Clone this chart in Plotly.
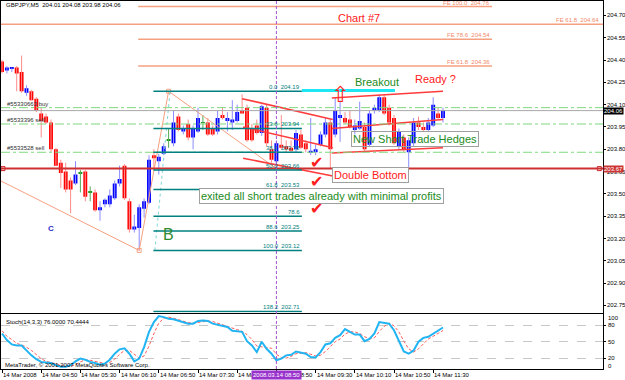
import plotly.graph_objects as go

W, H = 625, 380
FONT = "Liberation Sans, Arial, sans-serif"

# ---------------- data (GBPJPY M5, 14 Mar 2008) ----------------
bar_index = list(range(91))
open_ = [204.39, 204.33, 204.34, 204.35, 204.32, 204.18, 204.19, 204.14, 204.04, 204.02,
         203.98, 203.80, 203.71, 203.65, 203.59, 203.57, 203.64, 203.65, 203.51, 203.51,
         203.39, 203.43, 203.43, 203.47, 203.57, 203.69, 203.45, 203.26, 203.27, 203.40,
         203.44, 203.76, 203.72, 203.77, 203.86, 203.84, 204.02, 203.92, 203.97, 203.88,
         203.92, 203.98, 203.98, 203.94, 203.92, 204.03, 203.99, 203.98, 203.99, 204.06,
         204.08, 203.94, 203.96, 203.91, 204.08, 203.80, 203.72, 203.83, 203.82, 203.81,
         203.80, 203.90, 203.84, 203.78, 203.78, 203.83, 203.90, 203.98, 203.90, 204.01,
         204.01, 204.00, 203.93, 203.94, 203.95, 203.83, 204.06, 204.06, 204.15, 204.08,
         204.01, 203.82, 203.88, 203.78, 203.84, 203.98, 203.95, 203.93, 203.96, 204.04,
         204.01]
high = [204.40, 204.36, 204.35, 204.36, 204.43, 204.23, 204.20, 204.15, 204.08, 204.04,
        204.00, 203.81, 203.73, 203.71, 203.61, 203.72, 203.66, 203.66, 203.55, 203.53,
        203.45, 203.47, 203.53, 203.59, 203.69, 203.70, 203.47, 203.36, 203.43, 203.47,
        203.76, 203.80, 203.77, 203.84, 203.94, 204.06, 204.04, 203.96, 204.00, 203.96,
        204.08, 204.03, 204.01, 203.96, 204.06, 204.08, 204.05, 204.13, 204.10, 204.17,
        204.10, 203.97, 204.00, 204.10, 204.10, 203.86, 203.86, 204.03, 203.86, 203.86,
        203.93, 203.93, 203.86, 204.01, 203.83, 203.92, 204.01, 204.00, 204.15, 204.13,
        204.05, 204.06, 204.00, 204.12, 203.98, 204.06, 204.10, 204.17, 204.17, 204.10,
        204.03, 203.94, 203.90, 203.88, 204.01, 204.02, 203.98, 204.01, 204.15, 204.08,
        204.08]
low = [204.31, 204.31, 204.32, 204.19, 204.18, 204.16, 204.13, 204.05, 203.88, 203.97,
       203.78, 203.69, 203.54, 203.51, 203.37, 203.56, 203.51, 203.45, 203.45, 203.38,
       203.32, 203.41, 203.41, 203.46, 203.55, 203.46, 203.24, 203.24, 203.12, 203.34,
       203.43, 203.67, 203.63, 203.76, 203.81, 203.82, 203.92, 203.90, 203.86, 203.80,
       203.91, 203.93, 203.89, 203.89, 203.90, 204.00, 203.92, 203.93, 203.98, 204.04,
       203.85, 203.85, 203.90, 203.89, 203.82, 203.71, 203.69, 203.80, 203.78, 203.78,
       203.78, 203.80, 203.78, 203.76, 203.76, 203.82, 203.88, 203.67, 203.88, 203.85,
       203.97, 203.94, 203.90, 203.93, 203.78, 203.82, 204.04, 204.05, 204.03, 203.96,
       203.83, 203.80, 203.78, 203.67, 203.82, 203.93, 203.92, 203.92, 203.95, 204.00,
       203.98]
close = [204.32, 204.35, 204.35, 204.31, 204.19, 204.21, 204.13, 204.06, 203.99, 203.98,
         203.80, 203.69, 203.64, 203.53, 203.53, 203.63, 203.64, 203.48, 203.51, 203.39,
         203.41, 203.46, 203.49, 203.57, 203.60, 203.47, 203.26, 203.28, 203.41, 203.45,
         203.73, 203.74, 203.75, 203.82, 203.86, 203.98, 203.93, 203.94, 203.88, 203.94,
         204.01, 203.98, 203.90, 203.90, 204.01, 204.01, 204.01, 204.00, 204.05, 204.04,
         203.86, 203.86, 203.91, 204.09, 203.84, 203.73, 203.84, 203.81, 203.80, 203.79,
         203.91, 203.81, 203.80, 203.79, 203.80, 203.90, 203.98, 203.80, 204.06, 204.03,
         203.98, 203.95, 203.96, 203.99, 203.80, 204.04, 204.08, 204.15, 204.04, 203.98,
         203.84, 203.92, 203.80, 203.86, 203.98, 203.95, 203.93, 203.98, 204.10, 204.01,
         204.06]

stoch_main = [65, 53, 45, 43, 43, 34, 25, 18, 13, 12,
              11, 7, 4, 4, 7, 14, 19, 17, 13, 11,
              8, 10, 17, 28, 36, 38, 28, 14, 19, 40,
              68, 86, 97, 95, 92, 91, 88, 85, 83, 83,
              88, 89, 88, 83, 81, 78, 77, 70, 69, 68,
              51, 43, 31, 50, 37, 28, 16, 19, 25, 26,
              32, 30, 28, 22, 21, 31, 45, 47, 57, 62,
              73, 68, 63, 63, 51, 55, 65, 86, 84, 83,
              71, 51, 32, 28, 34, 50, 57, 59, 65, 71,
              76.0]
stoch_signal = [70, 60, 54, 47, 44, 40, 34, 26, 19, 14,
                12, 10, 7, 5, 5, 8, 13, 17, 16, 14,
                11, 10, 12, 18, 27, 34, 34, 27, 20, 24,
                42, 65, 84, 93, 95, 93, 90, 88, 85, 84,
                85, 87, 88, 87, 84, 81, 79, 75, 72, 69,
                63, 54, 42, 41, 39, 38, 27, 21, 20, 23,
                28, 29, 30, 27, 24, 25, 32, 41, 50, 55,
                64, 68, 68, 65, 59, 56, 57, 69, 78, 84,
                79, 68, 51, 37, 31, 37, 47, 55, 60, 65,
                70.4444]

time_tick_idx = [0, 8, 16, 24, 32, 40, 48, 56, 64, 72, 80, 88]
time_tick_text = ["14 Mar 2008", "14 Mar 04:50", "14 Mar 05:30", "14 Mar 06:10",
                  "14 Mar 06:50", "14 Mar 07:30", "14 Mar 08:10", "14 Mar 08:50",
                  "14 Mar 09:30", "14 Mar 10:10", "14 Mar 10:50", "14 Mar 11:30"]
price_ticks = [204.70, 204.55, 204.40, 204.25, 204.10, 203.95, 203.80,
               203.65, 203.50, 203.35, 203.20, 203.05, 202.90, 202.75]
stoch_ticks = [20, 50, 80]

fib_levels = ["0.0", "23.6", "38.2", "50.0", "61.8", "78.6", "88.6", "100.0", "138.2"]
fib_prices = [204.19, 203.94, 203.78, 203.66, 203.53, 203.35, 203.25, 203.12, 202.71]
fib_price_shown = [True, True, True, True, True, False, True, True, True]
fib_from, fib_to = 30.9, 61.2

fe_levels = ["100.0", "61.8", "78.6", "61.8"]
fe_prices = [204.76, 204.64, 204.54, 204.36]
fe_full_width = [False, True, False, False]
fe_from, fe_to = 27.8, 100.0

order_labels = ["#55330663 buy", "#5533396 sell", "#5533528 sell"]
order_prices = [204.08, 203.97, 203.78]

bid_price = 204.06
support_price = 203.67
breakout_price = 204.195
breakout_from, breakout_to = 61.2, 80.2

zigzag_idx = [-0.41, 28, 34, 56]
zigzag_price = [203.59, 203.12, 204.19, 203.67]
fib_diag_idx = [31.2, 34.3]
fib_diag_price = [203.12, 204.19]

trend_i0 = [49.0, 49.2, 49.2, 67.3, 67.3, 67.3]
trend_p0 = [204.14, 203.95, 203.74, 204.145, 203.94, 203.775]
trend_i1 = [67.5, 67.5, 67.5, 90.0, 90.0, 90.0]
trend_p1 = [204.00, 203.81, 203.62, 204.19, 204.00, 203.81]

cursor_idx = 56

# ---------------- helpers ----------------
def px(x):
    return x / W

def py(y):
    return 1 - y / H

X_RANGE = [-0.204, 122.653]
P_RANGE = [202.7025, 204.797]

fig = go.Figure()

# candle wicks and bodies
up_c, dn_c, dj_c = "#0000ff", "#ff0000", "#1a991a"
wick_map = {up_c: "#8c8cff", dn_c: "#ff8c8c", dj_c: "#55aa55"}
colors, base, height = [], [], []
wicks = {up_c: ([], []), dn_c: ([], []), dj_c: ([], [])}
for i, o, h, l, c in zip(bar_index, open_, high, low, close):
    col = up_c if c > o else (dn_c if c < o else dj_c)
    colors.append(col)
    lo, hi = min(o, c), max(o, c)
    if hi - lo < 0.006:
        m = (hi + lo) / 2
        lo, hi = m - 0.003, m + 0.003
    base.append(lo)
    height.append(hi - lo)
    wx, wy = wicks[col]
    wx += [i, i, None]
    wy += [l, h, None]

for col, (wx, wy) in wicks.items():
    fig.add_trace(go.Scatter(x=wx, y=wy, mode="lines", line=dict(color=wick_map[col], width=1),
                             xaxis="x", yaxis="y", hoverinfo="skip"))
fig.add_trace(go.Bar(x=bar_index, y=height, base=base, width=0.8,
                     marker=dict(color=colors, line=dict(width=0)),
                     xaxis="x", yaxis="y", hoverinfo="skip"))

# zigzag (salmon) and fib diagonal
fig.add_trace(go.Scatter(x=zigzag_idx, y=zigzag_price, mode="lines",
                         line=dict(color="#f5a080", width=1), xaxis="x", yaxis="y", hoverinfo="skip"))
fig.add_trace(go.Scatter(x=zigzag_idx[1:3], y=zigzag_price[1:3], mode="markers",
                         marker=dict(symbol="square-open", size=4, color="#f5a080", line=dict(width=1)),
                         xaxis="x", yaxis="y", hoverinfo="skip"))
fig.add_trace(go.Scatter(x=fib_diag_idx, y=fib_diag_price, mode="lines",
                         line=dict(color="#7fd6d6", width=1, dash="dot"), xaxis="x", yaxis="y",
                         hoverinfo="skip"))

# red trend lines
for a, b, c2, d in zip(trend_i0, trend_p0, trend_i1, trend_p1):
    fig.add_trace(go.Scatter(x=[a, c2], y=[b, d], mode="lines",
                             line=dict(color="#ff3c3c", width=1.6), xaxis="x", yaxis="y",
                             hoverinfo="skip"))

# support line end markers
fig.add_trace(go.Scatter(x=[0.2, 121.9], y=[support_price, support_price], mode="markers",
                         marker=dict(symbol="square-open", size=4, color="#cc2020", line=dict(width=1)),
                         xaxis="x", yaxis="y", hoverinfo="skip"))

# stochastic
fig.add_trace(go.Scatter(x=bar_index, y=stoch_signal, mode="lines",
                         line=dict(color="#ff5a5a", width=1, dash="3px,2px"),
                         xaxis="x2", yaxis="y2", hoverinfo="skip"))
fig.add_trace(go.Scatter(x=bar_index, y=stoch_main, mode="lines",
                         line=dict(color="#22b4f2", width=2),
                         xaxis="x2", yaxis="y2", hoverinfo="skip"))

shapes = []
for p in order_prices:
    shapes.append(dict(type="line", xref="x domain", yref="y", x0=0, x1=1, y0=p, y1=p,
                       line=dict(color="#7fd97f", width=1, dash="dashdot")))
shapes.append(dict(type="line", xref="x domain", yref="y", x0=0, x1=1, y0=bid_price, y1=bid_price,
                   line=dict(color="#a8a8a8", width=1)))
shapes.append(dict(type="line", xref="x domain", yref="y", x0=0, x1=1, y0=support_price,
                   y1=support_price, line=dict(color="#cc3030", width=2)))
for p, full in zip(fe_prices, fe_full_width):
    if full:
        shapes.append(dict(type="line", xref="x domain", yref="y", x0=0, x1=1, y0=p, y1=p,
                           line=dict(color="#f5a080", width=1.5)))
    else:
        shapes.append(dict(type="line", xref="x", yref="y", x0=fe_from, x1=fe_to, y0=p, y1=p,
                           line=dict(color="#f5a080", width=1.5)))
for p in fib_prices:
    shapes.append(dict(type="line", xref="x", yref="y", x0=fib_from, x1=fib_to, y0=p, y1=p,
                       line=dict(color="#008080", width=1.5)))
shapes.append(dict(type="line", xref="x", yref="y", x0=breakout_from, x1=breakout_to,
                   y0=breakout_price, y1=breakout_price, line=dict(color="#1ee6f2", width=3)))
shapes.append(dict(type="line", xref="x", yref="paper", x0=cursor_idx, x1=cursor_idx,
                   y0=py(369), y1=py(1), line=dict(color="#a050d0", width=1, dash="3px,2px")))

ann = []

def txt(text, x, y, size=6, color="black", xanchor="left", yanchor="middle", **kw):
    d = dict(text=text, x=px(x), y=py(y), xref="paper", yref="paper", showarrow=False,
             xanchor=xanchor, yanchor=yanchor, font=dict(size=size, color=color, family=FONT))
    d.update(kw)
    ann.append(d)

txt("GBPJPY,M5  204.01 204.08 203.98 204.06", 4, 5.5)
txt("Chart #7", 359, 18, size=11, color="#ff2020", xanchor="center")
ann.append(dict(text="⇧", x=px(340), y=py(80), xref="paper", yref="paper", showarrow=False,
                font=dict(size=22, color="#ff2020", family="DejaVu Sans")))
txt("Breakout", 353, 82, size=11, color="#228b22")
txt("Ready ?", 413, 78.5, size=11, color="#ff2020")

for lvl, p, full in zip(fe_levels, fe_prices, fe_full_width):
    ann.append(dict(text=f"FE {lvl}  {p:.2f}", x=(px(601) if full else fe_to),
                    xref=("paper" if full else "x"), y=p, yref="y", showarrow=False,
                    xanchor="right", yanchor="bottom", yshift=-1,
                    font=dict(size=6, color="#f08a6a", family=FONT)))
for lvl, p, shown in zip(fib_levels, fib_prices, fib_price_shown):
    t = f"{lvl}  {p:.2f}" if shown else lvl
    ann.append(dict(text=t, x=fib_to, xref="x", y=p, yref="y", showarrow=False,
                    xanchor="right", yanchor="bottom", yshift=-1,
                    font=dict(size=6, color="#008080", family=FONT)))
for t, p in zip(order_labels, order_prices):
    ann.append(dict(text=t, x=px(5), xref="paper", y=p, yref="y", showarrow=False,
                    xanchor="left", yanchor="bottom", yshift=-1,
                    font=dict(size=6, color="#303030", family=FONT)))

txt("New Short Trade Hedges", 414.5, 139, size=11, color="#228b22", xanchor="center",
    bordercolor="#a0a0a0", borderwidth=1, borderpad=1, bgcolor="rgba(255,255,255,0)")
txt("Double Bottom", 370, 175.5, size=11, color="#ff2020", xanchor="center",
    bordercolor="#a0a0a0", borderwidth=1, borderpad=1, bgcolor="white")
txt("exited all short trades already with minimal profits", 321.5, 196, size=11,
    color="#228b22", xanchor="center", bordercolor="#a0a0a0", borderwidth=1, borderpad=1,
    bgcolor="white")
for cy in [162, 182, 208]:
    ann.append(dict(text="✔", x=px(316), y=py(cy), xref="paper", yref="paper", showarrow=False,
                    font=dict(size=16, color="#ff2020", family="DejaVu Sans")))
txt("<b>C</b>", 50.5, 228, size=8, color="#2a2ac8", xanchor="center")
txt("B", 168, 234, size=16, color="#2e8b2e", xanchor="center")

# price axis labels (drawn as text right of the axis)
for v in price_ticks:
    ann.append(dict(text=f"{v:.2f}", x=px(605), xref="paper", y=v, yref="y", showarrow=False,
                    xanchor="left", yanchor="middle",
                    font=dict(size=6, color="black", family=FONT)))
ann.append(dict(text="204.06", x=px(603), xref="paper", y=bid_price, yref="y", showarrow=False,
                xanchor="left", yanchor="middle", bgcolor="black", borderpad=0,
                font=dict(size=6, color="white", family=FONT)))
ann.append(dict(text="203.67", x=px(603), xref="paper", y=support_price, yref="y", showarrow=False,
                xanchor="left", yanchor="middle", bgcolor="#cc3333", borderpad=0,
                font=dict(size=6, color="white", family=FONT)))

# stoch texts
txt("Stoch(14,3,3) 76.0000 70.4444", 4, 321.5)
txt("MetaTrader, © 2001-2007 MetaQuotes Software Corp.", 3, 364.5)
txt("100", 606, 318)
txt("0", 606, 366)
for v in stoch_ticks:
    ann.append(dict(text=str(v), x=px(606), xref="paper", y=v, yref="y2", showarrow=False,
                    xanchor="left", yanchor="middle",
                    font=dict(size=6, color="black", family=FONT)))

# time labels
for i, t in zip(time_tick_idx, time_tick_text):
    ann.append(dict(text=t, x=i, xref="x", y=py(374.5), yref="paper", showarrow=False,
                    xanchor="left", yanchor="middle", xshift=-1,
                    font=dict(size=6, color="black", family=FONT)))
ann.append(dict(text="2008.03.14 08:50", x=cursor_idx, xref="x", y=py(374.5), yref="paper",
                showarrow=False, xanchor="center", yanchor="middle", bgcolor="#9933cc",
                borderpad=1, font=dict(size=6, color="white", family=FONT)))

axis_common = dict(showline=True, mirror=True, linecolor="black", linewidth=1,
                   zeroline=False, automargin=False)

fig.update_layout(
    width=W, height=H, margin=dict(l=0, r=0, t=0, b=0),
    paper_bgcolor="white", plot_bgcolor="white", showlegend=False,
    barmode="overlay", hovermode=False,
    xaxis=dict(domain=[px(1), px(603)], range=X_RANGE, anchor="y", showgrid=False,
               showticklabels=False, ticks="", **axis_common),
    yaxis=dict(domain=[py(312.5), py(1)], range=P_RANGE, anchor="x", side="right",
               showgrid=False, ticks="outside", ticklen=2, tickcolor="black",
               tickvals=price_ticks, showticklabels=False, **axis_common),
    xaxis2=dict(domain=[px(1), px(603)], range=X_RANGE, anchor="y2", showgrid=False,
                showticklabels=False, ticks="outside", ticklen=3, tickcolor="black",
                tickvals=time_tick_idx, **axis_common),
    yaxis2=dict(domain=[py(369), py(314.4)], range=[0, 100], anchor="x2", side="right",
                showgrid=True, gridcolor="#c8c8c8", griddash="dash", ticks="outside",
                ticklen=2, tickcolor="black", tickvals=stoch_ticks, showticklabels=False,
                **axis_common),
    shapes=shapes, annotations=ann,
)

fig.write_html("out.html")
